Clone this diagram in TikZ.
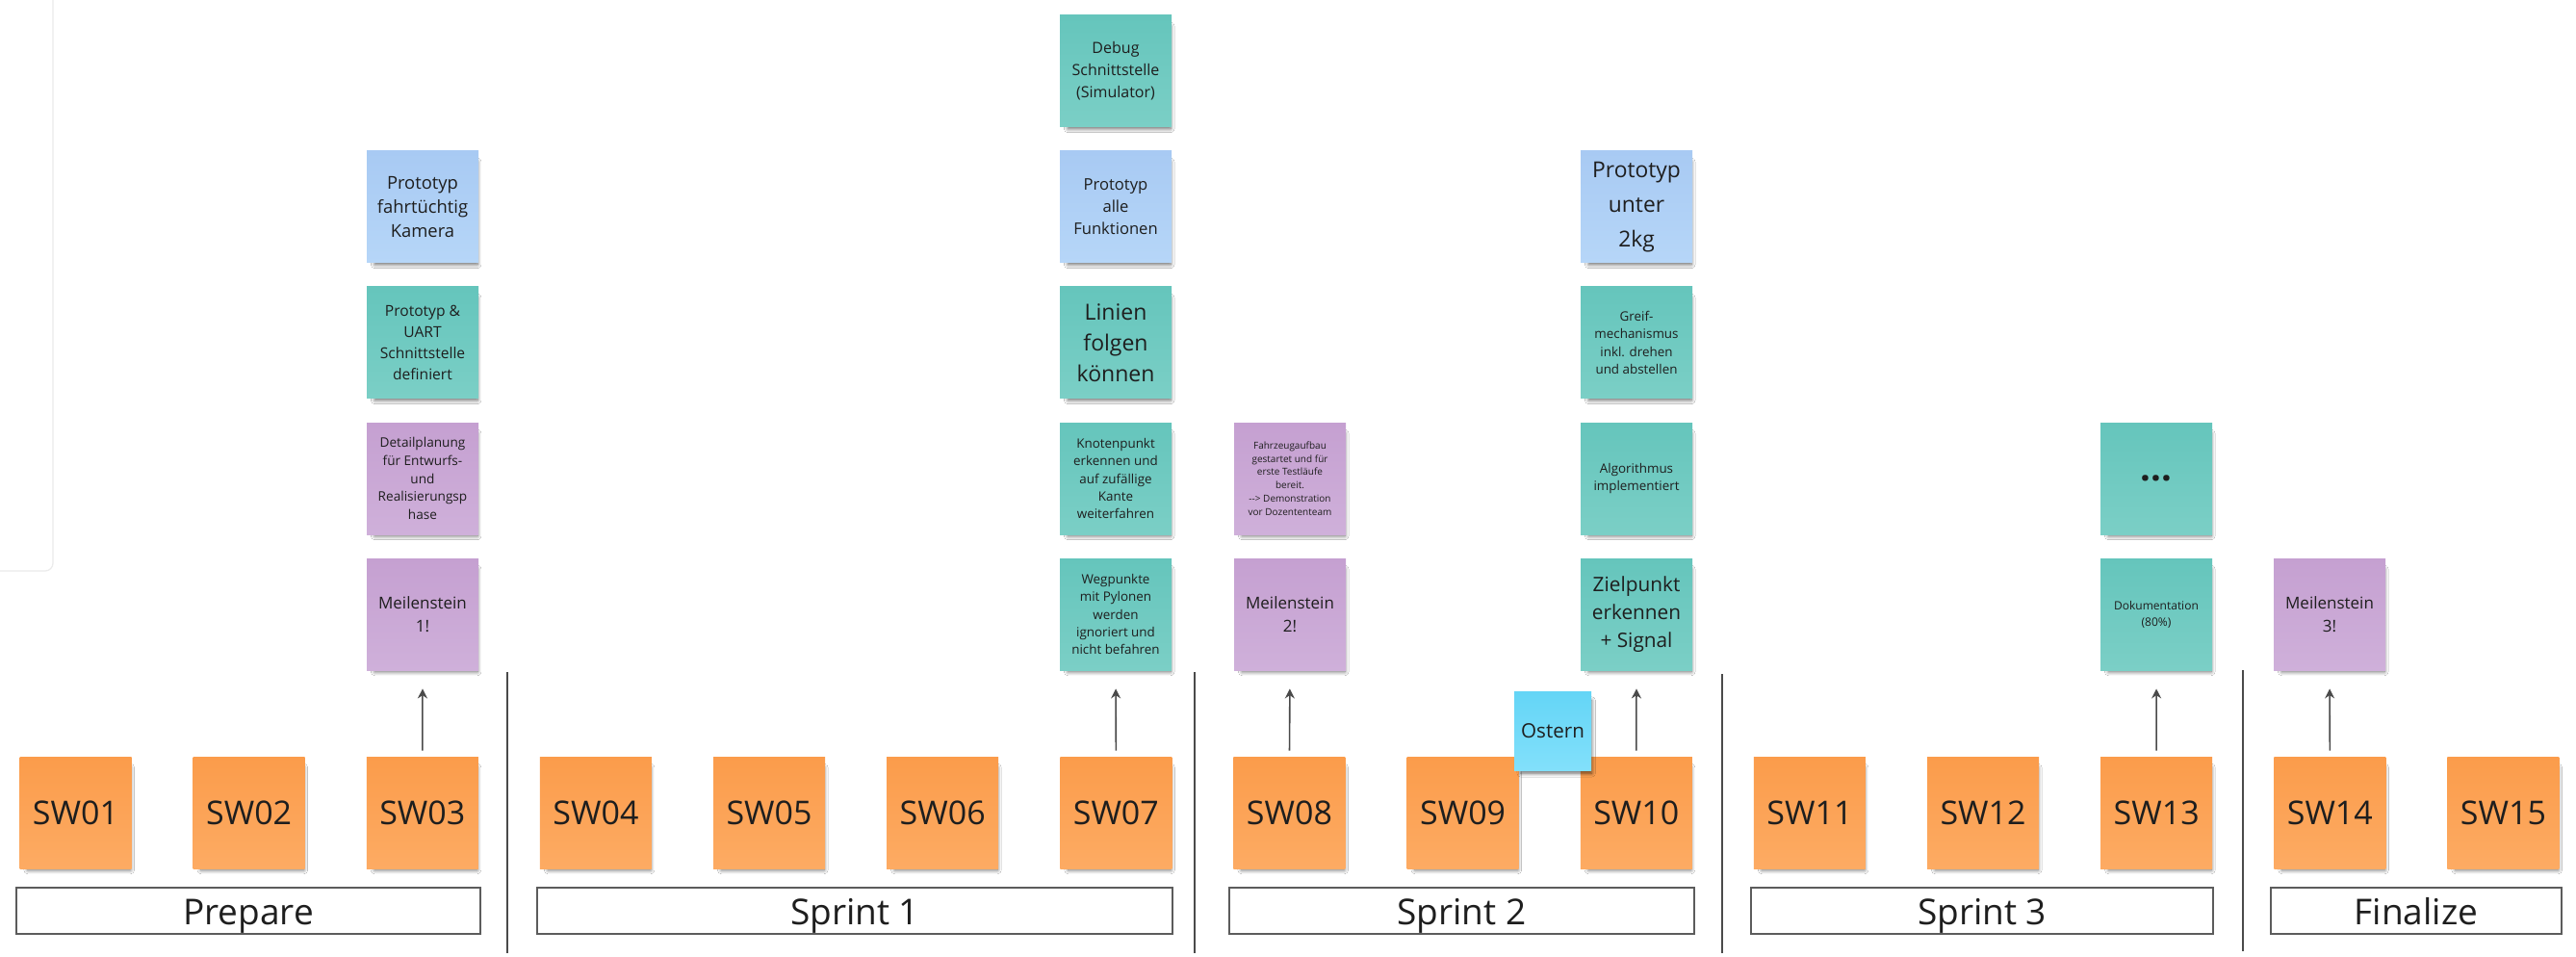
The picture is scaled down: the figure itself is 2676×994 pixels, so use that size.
\documentclass[tikz,border=0pt]{standalone}
\usepackage{fontspec}
\setmainfont{Open Sans}
\usetikzlibrary{arrows.meta,shadows.blur}
\definecolor{orT}{HTML}{FB9C4B}
\definecolor{orB}{HTML}{FDAB63}
\definecolor{teT}{HTML}{65C5BC}
\definecolor{teB}{HTML}{7BCFC6}
\definecolor{blT}{HTML}{A8CAF3}
\definecolor{blB}{HTML}{B6D6F8}
\definecolor{puT}{HTML}{C5A0D1}
\definecolor{puB}{HTML}{CFB0DA}
\definecolor{cyT}{HTML}{64D5F6}
\definecolor{cyB}{HTML}{82E0FB}
\definecolor{txt}{HTML}{1E1E1E}
\definecolor{lineC}{HTML}{4A4A4A}
\definecolor{panelC}{HTML}{EBEBEB}
\newcommand\fs[2]{\fontsize{#1}{#2}\selectfont}
\tikzset{
  sticky/.style={minimum width=58pt, minimum height=58pt, inner sep=0pt, align=center, text=txt,
    blur shadow={shadow xshift=2pt, shadow yshift=-3.5pt, shadow scale=0.92, shadow opacity=60, shadow blur steps=6}},
  orangest/.style={sticky, top color=orT, bottom color=orB, font=\fs{17}{20}},
  tealst/.style={sticky, top color=teT, bottom color=teB},
  bluest/.style={sticky, top color=blT, bottom color=blB},
  purplest/.style={sticky, top color=puT, bottom color=puB},
  cyanst/.style={sticky, minimum width=40pt, minimum height=41pt, top color=cyT, bottom color=cyB},
  phase/.style={draw=lineC!90, line width=1pt, fill=white, minimum height=24pt, inner sep=0pt,
    text height=14pt, text depth=0pt, text=txt, font=\fs{18.5}{20}},
  sep/.style={draw=lineC, line width=0.9pt},
  arr/.style={draw=lineC, line width=0.8pt, -{Stealth[length=5pt,width=5pt]}, shorten <=3pt, shorten >=9.5pt}
}
\begin{document}
\begin{tikzpicture}[x=0.5pt,y=-0.5pt]
\useasboundingbox[fill=white] (0,0) rectangle (2676,994);
% faint panel edge top left
\draw[panelC, line width=0.6pt, rounded corners=4pt] (55,0) -- (55,593) -- (0,593);

% week stickies
\foreach \i in {1,...,15}{
  \pgfmathsetmacro\xx{78.5+180.14*(\i-1)}
  \node[orangest] (sw\i) at (\xx,844) {SW\ifnum\i<10 0\fi\i};
}

% column SW03
\node[bluest,   font=\fs{9.2}{12.5}] (c3r4) at (439,215) {Prototyp\\fahrtüchtig\\Kamera};
\node[tealst,   font=\fs{7.8}{11}]   (c3r3) at (439,356) {Prototyp \&\\UART\\Schnittstelle\\definiert};
\node[purplest, font=\fs{6.8}{9.3}]  (c3r2) at (439,497) {Detailplanung\\für Entwurfs-\\und\\Realisierungsp\\hase};
\node[purplest, font=\fs{8.5}{12}]   (c3r1) at (439,638) {Meilenstein\\1!};

% column SW07
\node[tealst,   font=\fs{8}{11.5}]   (c7r5) at (1159,74)  {Debug\\Schnittstelle\\(Simulator)};
\node[bluest,   font=\fs{8.3}{11.5}] (c7r4) at (1159,215) {Prototyp\\alle\\Funktionen};
\node[tealst,   font=\fs{11.5}{16}]  (c7r3) at (1159,356) {Linien\\folgen\\können};
\node[tealst,   font=\fs{6.7}{9.2}]  (c7r2) at (1159,497) {Knotenpunkt\\erkennen und\\auf zufällige\\Kante\\weiterfahren};
\node[tealst,   font=\fs{6.7}{9.2}]  (c7r1) at (1159,638) {Wegpunkte\\mit Pylonen\\werden\\ignoriert und\\nicht befahren};

% column SW08
\node[purplest, font=\fs{5}{6.9}]    (c8r2) at (1340,497) {Fahrzeugaufbau\\gestartet und für\\erste Testläufe\\bereit.\\-{}-{}> Demonstration\\vor Dozententeam};
\node[purplest, font=\fs{8.5}{12}]   (c8r1) at (1340,638) {Meilenstein\\2!};

% column SW10
\node[bluest,   font=\fs{11.4}{18}]  (c10r4) at (1700,215) {Prototyp\\unter\\2kg};
\node[tealst,   font=\fs{6.7}{9.3}]  (c10r3) at (1700,356) {Greif-\\mechanismus\\inkl. drehen\\und abstellen};
\node[tealst,   font=\fs{6.7}{9.3}]  (c10r2) at (1700,497) {Algorithmus\\implementiert};
\node[tealst,   font=\fs{10.4}{14.5}] (c10r1) at (1700,638) {Zielpunkt\\erkennen\\+ Signal};

% column SW13
\node[tealst,   font=\fs{19}{19}\bfseries] (c13r2) at (2240,497) {...};
\node[tealst,   font=\fs{6}{8.5}]    (c13r1) at (2240,638) {Dokumentation\\(80\%)};

% column SW14
\node[purplest, font=\fs{8.5}{12}]   (c14r1) at (2420,638) {Meilenstein\\3!};

% Ostern
\node[cyanst, font=\fs{10.3}{12}] (ostern) at (1613,759) {Ostern};

% arrows
\draw[arr] (sw3.north) -- (c3r1.south);
\draw[arr] (sw7.north) -- (c7r1.south);
\draw[arr] (sw8.north) -- (c8r1.south);
\draw[arr] (sw10.north) -- (c10r1.south);
\draw[arr] (sw13.north) -- (c13r1.south);
\draw[arr] (sw14.north) -- (c14r1.south);

% separators
\draw[sep] (527,698) -- (527,990);
\draw[sep] (1241,698) -- (1241,990);
\draw[sep] (1789,700) -- (1789,990);
\draw[sep] (2330,696) -- (2330,988);

% phases
\node[phase, minimum width=241pt]   (prep) at (258,946)  {Prepare};
\node[phase, minimum width=330pt]   (sp1)  at (888,946)  {Sprint 1};
\node[phase, minimum width=241.5pt] (sp2)  at (1518.5,946) {Sprint 2};
\node[phase, minimum width=240pt]   (sp3)  at (2059,946) {Sprint 3};
\node[phase, minimum width=151pt]   (fin)  at (2510,946) {Finalize};
\end{tikzpicture}
\end{document}
